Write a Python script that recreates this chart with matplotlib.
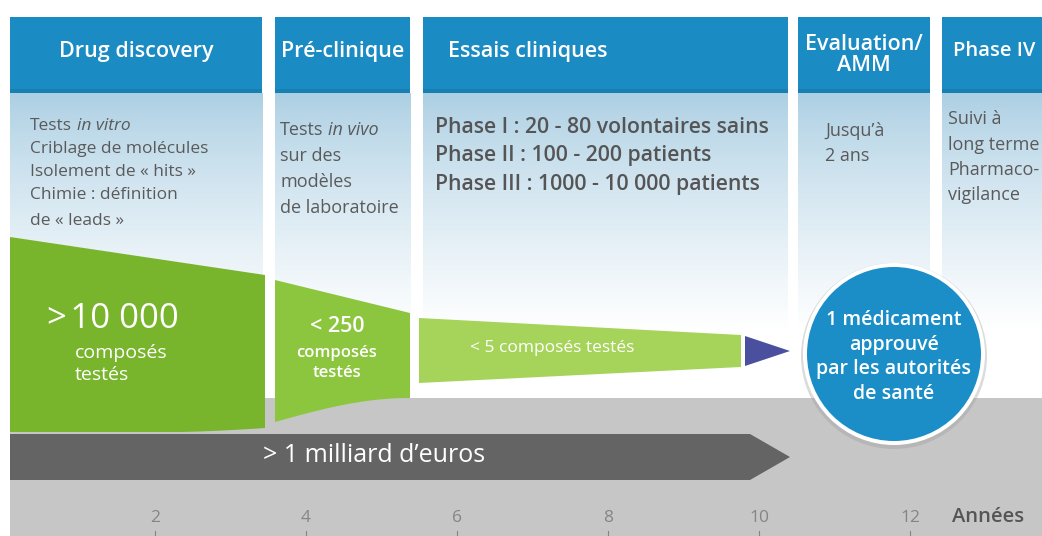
import numpy as np
import matplotlib.pyplot as plt
from matplotlib.patches import Polygon, Rectangle, Ellipse

plt.rcParams['font.family'] = ['Open Sans', 'DejaVu Sans']

# timeline phases, in years
phases = ['Drug discovery', 'Pré-clinique', 'Essais cliniques', 'Evaluation/\nAMM', 'Phase IV']
phase_start = [0.08, 3.59, 5.55, 10.52, 12.42]
phase_end = [3.42, 5.38, 10.38, 12.26, 14.2]
discovery_lines = ['Criblage de molécules', 'Isolement de « hits »', 'Chimie : définition', 'de « leads »']
preclin_lines = ['sur des', 'modèles', 'de laboratoire']
trial_lines = ['Phase I : 20 - 80 volontaires sains',
               'Phase II : 100 - 200 patients',
               'Phase III : 1000 - 10 000 patients']
eval_lines = ['Jusqu\u2019à', '2 ans']
phase4_lines = ['Suivi à', 'long terme', 'Pharmaco-', 'vigilance']
compounds = ['>\u200a10 000', '< 250', '< 5']
result_label = '1 médicament\napprouvé\npar les autorités\nde santé'
cost_label = '> 1 milliard d\u2019euros'
years = [2, 4, 6, 8, 10, 12]

PX = 75.5  # pixels per year


def X(p):
    return (p - 4) / PX


fig = plt.figure(figsize=(10.42, 5.36), dpi=100)
ax = fig.add_axes([0, 0, 1, 1])
ax.set_xlim(X(0), X(1042))
ax.set_ylim(536, 0)
ax.axis('off')

blue = '#1b8bc4'
grey_txt = '#5a5a5a'

# columns: header + light blue gradient
grad = np.linspace(0, 1, 200) ** 0.8
top = np.array([0.67, 0.81, 0.89])
cols = top[None, :] * (1 - grad[:, None]) + grad[:, None]
img = cols[:, None, :]
for s, e in zip(phase_start, phase_end):
    ax.imshow(img, extent=(s, e, 330, 93), aspect='auto', origin='upper', zorder=0)
    ax.add_patch(Rectangle((s, 17), e - s, 76, color=blue, lw=0, zorder=2))
    ax.add_patch(Rectangle((s, 89), e - s, 4, color='#17769f', lw=0, alpha=0.5, zorder=2))

hfont = dict(color='white', fontsize=15.5, fontweight='semibold', va='center', zorder=5)
ax.text((phase_start[0] + phase_end[0]) / 2, 51, phases[0], ha='center', **hfont)
ax.text((phase_start[1] + phase_end[1]) / 2, 51, phases[1], ha='center', **hfont)
ax.text(X(448), 51, phases[2], ha='left', **hfont)
ax.text((phase_start[3] + phase_end[3]) / 2, 55, phases[3], ha='center', linespacing=1.05, **hfont)
ax.text(X(953), 51, phases[4], ha='left', **dict(hfont, fontsize=14.5))

# body texts
bfont = dict(color=grey_txt, fontsize=12.5, va='baseline', zorder=5)
t = ax.text(X(30), 130, 'Tests', **bfont)
ax.annotate('in vitro', xy=(1, 0), xycoords=t, xytext=(3.5, 0), textcoords='offset points',
            style='italic', va='bottom', color=grey_txt, fontsize=12.5)
for i, line in enumerate(discovery_lines):
    ax.text(X(30), 153 + 23 * i + (3 if i == 3 else 0), line, **bfont)

bfont2 = dict(bfont, fontsize=13)
t = ax.text(X(280), 135, 'Tests', **bfont2)
ax.annotate('in vivo', xy=(1, 0), xycoords=t, xytext=(3.5, 0), textcoords='offset points',
            style='italic', va='bottom', color=grey_txt, fontsize=13)
for i, line in enumerate(preclin_lines):
    ax.text(X(280), 161 + 26 * i, line, **bfont2)

for i, line in enumerate(trial_lines):
    ax.text(X(435), 133 + 28.5 * i, line, color='#555555', fontsize=15.3, fontweight='semibold',
            va='baseline', zorder=5)

for i, line in enumerate(eval_lines):
    ax.text(X(825), 136 + 25 * i, line, **bfont2)

for i, line in enumerate(phase4_lines):
    ax.text(X(948), 124 + 25.5 * i, line, **bfont2)

# grey bottom band
ax.add_patch(Rectangle((X(10), 398), X(1042) - X(10), 140, color='#c6c6c6', lw=0, zorder=1))

# funnel
xc = np.linspace(X(177), X(265), 30)
yc = 432 - 4 * ((xc - xc[0]) / (xc[-1] - xc[0])) ** 1.5
f1 = [(X(10), 237), (X(265), 275)] + list(zip(xc[::-1], yc[::-1])) + [(X(10), 432)]
ax.add_patch(Polygon(f1, closed=True, color='#78b42c', lw=0, zorder=3))

xc = np.linspace(X(275), X(410), 30)
u = (xc - xc[0]) / (xc[-1] - xc[0])
yc = 422 - 24 * np.sin(u * np.pi / 2)
f2 = [(X(275), 280), (X(410), 313)] + list(zip(xc[::-1], yc[::-1]))
ax.add_patch(Polygon(f2, closed=True, color='#8cc53e', lw=0, zorder=3))

f3 = [(X(419), 318), (X(741), 335), (X(741), 367), (X(419), 383)]
ax.add_patch(Polygon(f3, closed=True, color='#a6d45a', lw=0, zorder=3))

tri = [(X(745), 336), (X(790), 351), (X(745), 366)]
ax.add_patch(Polygon(tri, closed=True, color='#4a4f9e', lw=0, zorder=3))

ax.text(X(47), 319, compounds[0], color='white', fontsize=25, va='center', zorder=5)
ax.text(X(75), 364, 'composés\ntestés', color='white', fontsize=14, va='center',
        linespacing=1.3, zorder=5)
ax.text(X(337), 326, compounds[1], color='white', fontsize=15.5, fontweight='semibold',
        ha='center', va='center', zorder=5)
ax.text(X(337), 363, 'composés\ntestés', color='white', fontsize=12, fontweight='semibold',
        ha='center', va='center', linespacing=1.3, zorder=5)
ax.text(X(470), 348, compounds[2] + ' composés testés', color='white', fontsize=12.5,
        va='center', zorder=5)

# cost arrow
arr = [(X(10), 434), (X(750), 434), (X(790), 457), (X(750), 480), (X(10), 480)]
ax.add_patch(Polygon(arr, closed=True, color='#646464', lw=0, zorder=3))
ax.text(X(374), 456, cost_label, color='white', fontsize=18, ha='center', va='center', zorder=5)

# approved drug circle
cx, cy, r = X(894), 354, 87
ax.add_patch(Ellipse((cx, cy + 2), 2 * (r + 6) / PX, 2 * (r + 6), color='#999999', alpha=0.35, lw=0, zorder=3))
ax.add_patch(Ellipse((cx, cy), 2 * (r + 4) / PX, 2 * (r + 4), color='white', lw=0, zorder=3))
ax.add_patch(Ellipse((cx, cy), 2 * r / PX, 2 * r, color='#1b8ec8', lw=0, zorder=4))
ax.text(cx, cy + 3, result_label, color='white', fontsize=14, fontweight='semibold',
        ha='center', va='center', linespacing=1.3, zorder=5)

# year axis
for yv in years:
    ax.text(yv, 518, str(yv), color='#858585', fontsize=12.5, ha='center', va='center', zorder=5)
    ax.plot([yv, yv], [531, 537], color='#858585', lw=0.8, zorder=5)
ax.text(X(952), 517, 'Années', color='#555555', fontsize=14.5, fontweight='semibold',
        va='center', zorder=5)

fig.savefig('out.png', dpi=100)
